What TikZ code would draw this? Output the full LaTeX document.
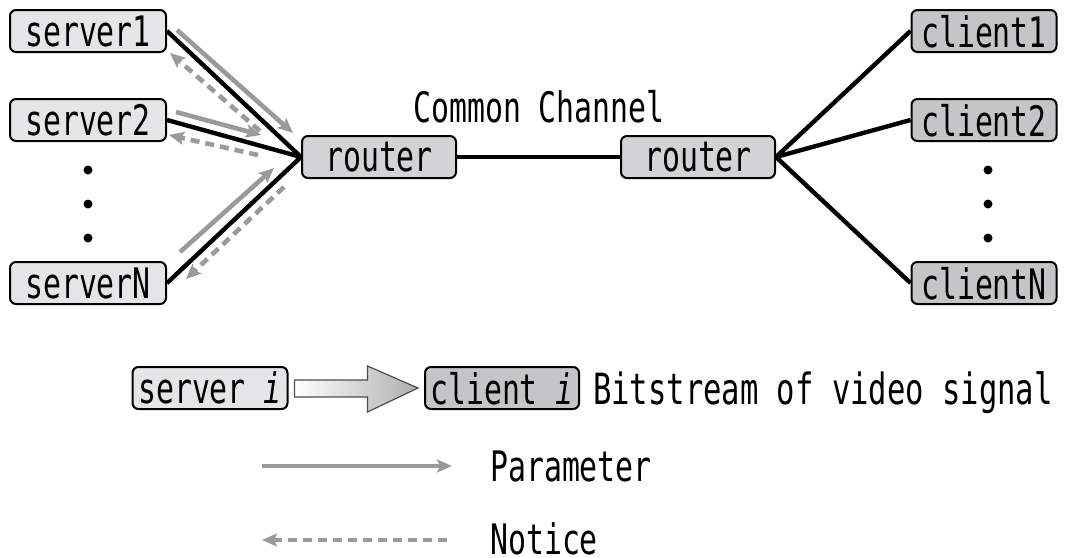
\documentclass[tikz,border=0pt]{standalone}
\usepackage{fontspec}
\setmainfont[FakeStretch=0.71]{DejaVu Sans Mono}
\usetikzlibrary{arrows.meta,calc}
\definecolor{srvfill}{HTML}{E4E5E6}
\definecolor{rtfill}{HTML}{D2D3D5}
\definecolor{clfill}{HTML}{C4C5C7}
\definecolor{sig}{HTML}{9A9A9A}
\tikzset{
  txt/.style={font=\fontsize{42}{45}\selectfont},
  box/.style={txt, draw=black, line width=2pt, rounded corners=6pt, inner sep=0pt,
              minimum height=42pt, text depth=0pt},
  srv/.style={box, fill=srvfill, minimum width=156pt},
  rtr/.style={box, fill=rtfill, minimum width=154pt},
  cli/.style={box, fill=clfill, minimum width=145pt},
  link/.style={line width=4.4pt, black},
  param/.style={sig, line width=4.6pt, -{Stealth[length=15pt,width=13pt,inset=3pt]}},
  notice/.style={sig, line width=4.6pt, dash pattern=on 9pt off 6pt,
                 -{Stealth[length=15pt,width=13pt,inset=3pt]}},
  dot/.style={circle, fill=black, inner sep=0pt, minimum size=9pt},
  lbl/.style={txt, inner sep=0pt, anchor=west, text depth=0pt}
}
\begin{document}
\begin{tikzpicture}[x=1pt,y=-1pt]
\useasboundingbox (0,0) rectangle (1067,557);

% servers and clients
\node[srv] (s1) at (88,31) {server1};
\node[srv] (s2) at (88,120) {server2};
\node[srv] (sN) at (88,283) {serverN};
\node[dot] (sd1) at (88,170) {};
\node[dot] (sd2) at (88,204) {};
\node[dot] (sd3) at (88,238) {};

\node[cli] (c1) at (984,31) {client1};
\node[cli] (c2) at (984,120) {client2};
\node[cli] (cN) at (984,283) {clientN};
\node[dot] (cd1) at (988,170) {};
\node[dot] (cd2) at (988,204) {};
\node[dot] (cd3) at (988,238) {};

% routers and the shared link
\node[rtr] (r1) at (379,157) {router};
\node[rtr] (r2) at (698,157) {router};
\node[lbl, anchor=center] (cc) at (539,106) {Common Channel};

\draw[link] (s1.east) -- (r1.west);
\draw[link] (s2.east) -- (r1.west);
\draw[link] (sN.east) -- (r1.west);
\draw[link] (r1.east) -- (r2.west);
\draw[link] (r2.east) -- (c1.west);
\draw[link] (r2.east) -- (c2.west);
\draw[link] (r2.east) -- (cN.west);

% parameter and notice signals beside the server links
\coordinate (p1a) at (177,30);  \coordinate (p1b) at (293,133);
\coordinate (n1a) at (260,131); \coordinate (n1b) at (170,53);
\coordinate (p2a) at (176,112); \coordinate (p2b) at (261,135);
\coordinate (n2a) at (258,155); \coordinate (n2b) at (169,135);
\coordinate (pNa) at (180,252); \coordinate (pNb) at (274,168);
\coordinate (nNa) at (284,187); \coordinate (nNb) at (186,279);
\draw[param] (p1a) -- (p1b);
\draw[notice] (n1a) -- (n1b);
\draw[param] (p2a) -- (p2b);
\draw[notice] (n2a) -- (n2b);
\draw[param] (pNa) -- (pNb);
\draw[notice] (nNa) -- (nNb);

% legend
\node[srv, minimum width=155pt] (si) at (210,388) {server \textit{i}};
\node[rtr, fill=clfill] (ci) at (502,388) {client \textit{i}};
\node[lbl, font=\fontsize{43}{46}\selectfont] (bs) at (593,388) {Bitstream of video signal};
\draw[line width=1.2pt, black!70, left color=white, right color=black!32]
  ($(si.east)+(6,-8)$) -- ($(si.east)+(79,-8)$) -- ($(si.east)+(79,-22)$)
  -- ($(ci.west)+(-6,0)$) -- ($(si.east)+(79,24)$) -- ($(si.east)+(79,9)$)
  -- ($(si.east)+(6,9)$) -- cycle;

\coordinate (pa) at (262,466); \coordinate (pb) at (452,466);
\draw[param, line width=4pt] (pa) -- (pb);
\node[lbl] (pl) at (490,466) {Parameter};
\coordinate (na) at (447,540); \coordinate (nb) at (262,540);
\draw[notice, line width=4pt] (na) -- (nb);
\node[lbl] (nl) at (490,539) {Notice};
\end{tikzpicture}
\end{document}
